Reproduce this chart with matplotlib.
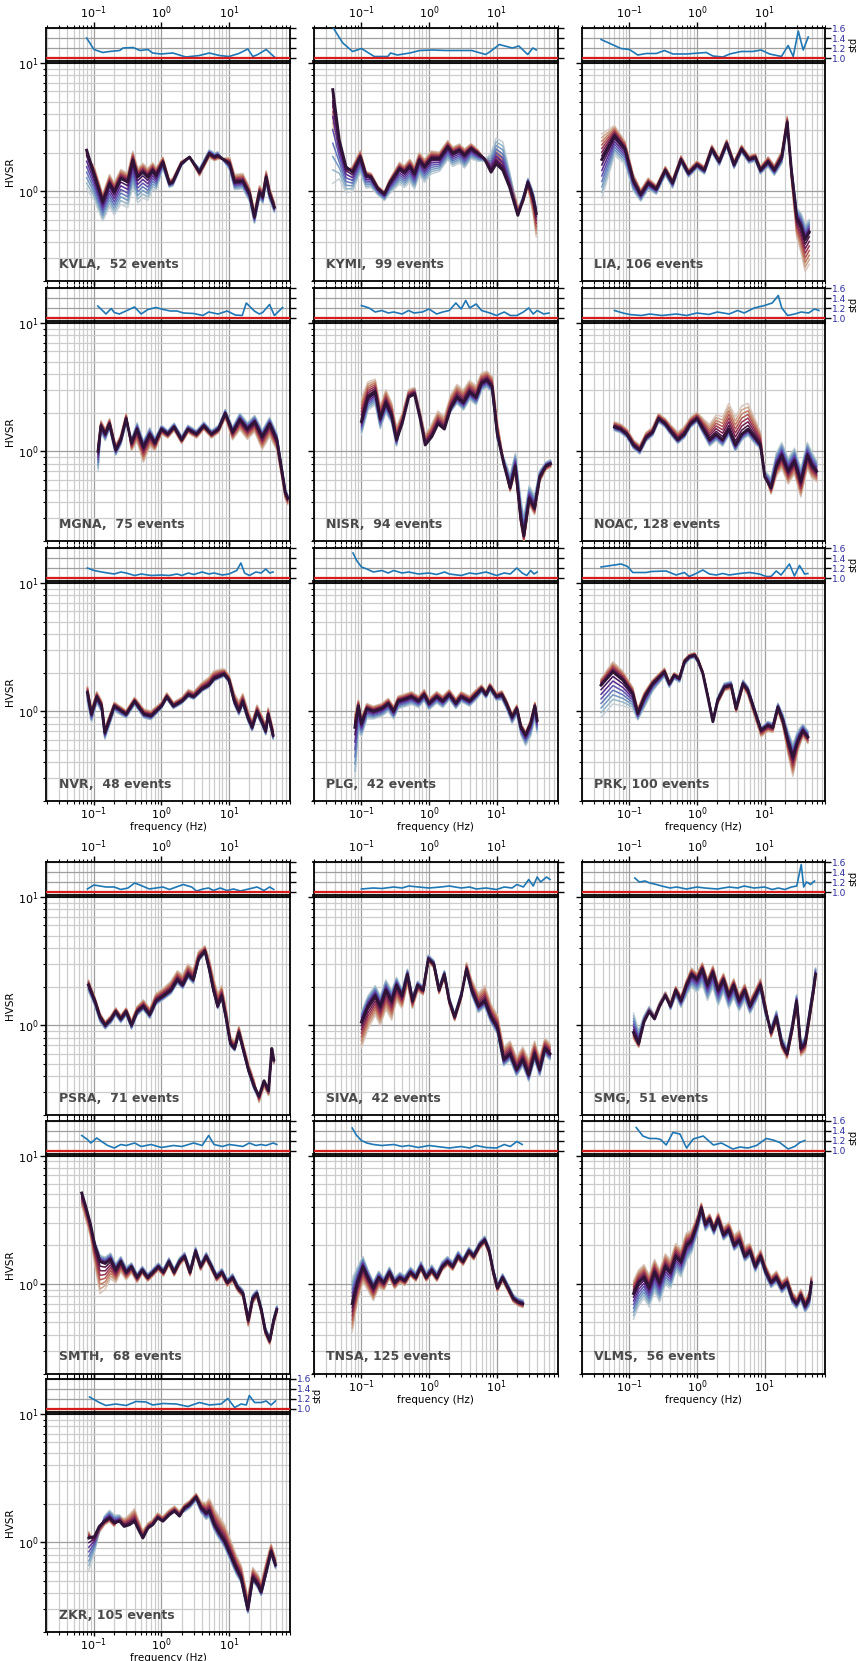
import numpy as np
import matplotlib.pyplot as plt
from matplotlib.ticker import NullFormatter, NullLocator

# station names and number of events
stations = ['KVLA', 'KYMI', 'LIA', 'MGNA', 'NISR', 'NOAC', 'NVR', 'PLG', 'PRK',
            'PSRA', 'SIVA', 'SMG', 'SMTH', 'TNSA', 'VLMS', 'ZKR']
n_events = [52, 99, 106, 75, 94, 128, 48, 42, 100, 71, 42, 51, 68, 125, 56, 105]

# ---- HVSR (central curve), spread of the family at the blue end (lo) and red end (hi), log10 offsets
kvla_f = [0.078, 0.10, 0.135, 0.17, 0.20, 0.25, 0.316, 0.376, 0.445, 0.53, 0.627, 0.74, 0.83, 1.05, 1.31, 1.47,
          1.96, 2.6, 3.65, 5.1, 6.1, 6.8, 10.2, 12.1, 16, 20.1, 23.8, 28.3, 31.6, 35.5, 39.8, 47]
kvla_h = [2.09, 1.37, 0.83, 1.15, 0.99, 1.26, 1.18, 1.75, 1.29, 1.41, 1.29, 1.46, 1.33, 1.69, 1.15, 1.18,
          1.64, 1.85, 1.41, 1.97, 1.85, 1.9, 1.64, 1.18, 1.2, 0.96, 0.63, 0.99, 0.9, 1.29, 0.96, 0.75]
kvla_lo = [-0.3, -0.2, -0.15, -0.18, -0.18, -0.2, -0.2, -0.2, -0.2, -0.2, -0.18, -0.15, -0.12, -0.05, -0.03, -0.03,
           -0.02, 0.0, 0.03, 0.03, 0.03, 0.03, -0.05, -0.06, -0.06, -0.06, -0.05, -0.05, -0.05, -0.05, -0.05, -0.04]
kvla_hi = [-0.05, 0.06, 0.06, 0.07, 0.07, 0.07, 0.07, 0.07, 0.07, 0.07, 0.07, 0.06, 0.06, 0.04, 0.03, 0.03,
           0.02, 0.0, -0.03, -0.03, -0.03, -0.03, 0.05, 0.06, 0.06, 0.05, 0.05, 0.05, 0.05, 0.05, 0.05, 0.04]

kymi_f = [0.0376, 0.047, 0.059, 0.074, 0.096, 0.117, 0.139, 0.175, 0.219, 0.26, 0.366, 0.434, 0.52, 0.61, 0.72, 0.86, 1.08,
          1.43, 1.9, 2.25, 2.83, 3.36, 4.2, 5.3, 6.6, 8.3, 9.9, 12.4, 15.6, 20.7, 24.6, 29.2, 34.6, 38.8]
kymi_h = [6.2, 2.5, 1.55, 1.41, 1.85, 1.33, 1.29, 1.05, 0.95, 1.15, 1.5, 1.41, 1.56, 1.37, 1.75, 1.55, 1.8,
          1.8, 2.22, 1.97, 2.09, 1.91, 2.15, 1.97, 1.8, 1.41, 1.64, 1.46, 1.08, 0.65, 0.85, 1.18, 0.9, 0.67]
kymi_lo = [-0.73, -0.3, -0.2, -0.15, -0.12, -0.1, -0.08, -0.05, -0.05, -0.08, -0.12, -0.12, -0.12, -0.12, -0.12, -0.12, -0.12,
           -0.1, -0.1, -0.1, -0.1, -0.1, -0.08, -0.06, -0.02, 0.15, 0.2, 0.22, 0.12, 0.05, 0.03, 0.03, 0.05, 0.05]
kymi_hi = [-0.3, -0.1, -0.05, 0.05, 0.05, 0.03, 0.03, 0.02, 0.02, 0.03, 0.05, 0.05, 0.06, 0.06, 0.06, 0.06, 0.06,
           0.05, 0.05, 0.05, 0.05, 0.05, 0.04, 0.03, 0.0, 0.1, 0.12, 0.12, 0.08, 0.08, -0.02, -0.05, -0.12, -0.18]

lia_f = [0.039, 0.06, 0.086, 0.114, 0.147, 0.19, 0.25, 0.34, 0.435, 0.58, 0.75, 1.0, 1.29, 1.66, 2.14,
         2.75, 3.54, 4.57, 5.9, 7.3, 8.7, 11.3, 14, 18, 21.7, 25, 30, 34.5, 40, 46]
lia_h = [1.77, 2.7, 2.14, 1.21, 0.94, 1.16, 1.04, 1.46, 1.16, 1.77, 1.38, 1.61, 1.46, 2.14, 1.7,
         2.36, 1.61, 2.14, 1.77, 1.84, 1.46, 1.7, 1.46, 1.84, 3.45, 1.46, 0.62, 0.54, 0.42, 0.48]
lia_lo = [-0.3, -0.15, -0.12, -0.08, -0.05, -0.05, -0.04, -0.04, -0.04, -0.03, -0.03, -0.03, -0.03, -0.03, -0.03,
          -0.03, -0.03, -0.03, -0.03, -0.03, -0.03, -0.04, -0.04, -0.05, -0.05, 0.03, 0.08, 0.1, 0.12, 0.1]
lia_hi = [0.2, 0.08, 0.06, 0.05, 0.04, 0.04, 0.03, 0.03, 0.03, 0.03, 0.03, 0.03, 0.03, 0.03, 0.03,
          0.03, 0.03, 0.03, 0.03, 0.03, 0.03, 0.04, 0.04, 0.05, 0.05, -0.08, -0.15, -0.2, -0.25, -0.25]

mgna_f = [0.115, 0.127, 0.147, 0.17, 0.21, 0.25, 0.3, 0.36, 0.435, 0.54, 0.67, 0.8, 1.0, 1.24, 1.54, 1.99,
          2.47, 3.3, 4.24, 5.5, 7.0, 8.8, 11.3, 14.5, 18.7, 24, 31, 40, 51, 59, 68, 74]
mgna_h = [1.0, 1.58, 1.36, 1.64, 1.02, 1.23, 1.8, 1.16, 1.49, 1.08, 1.36, 1.16, 1.49, 1.36, 1.55, 1.23,
          1.49, 1.36, 1.58, 1.36, 1.49, 1.98, 1.41, 1.77, 1.49, 1.7, 1.3, 1.64, 1.23, 0.77, 0.48, 0.43]
mgna_lo = [-0.15, -0.05, -0.05, -0.04, -0.04, -0.04, -0.04, 0.03, 0.05, 0.05, 0.05, 0.04, 0.03, 0.03, 0.03, 0.03,
           0.03, 0.03, 0.03, 0.03, 0.03, 0.03, 0.04, 0.05, 0.05, 0.05, 0.05, 0.05, 0.05, 0.04, 0.03, 0.03]
mgna_hi = [0.05, 0.04, 0.04, 0.04, 0.04, 0.04, 0.04, -0.06, -0.1, -0.12, -0.1, -0.06, -0.04, -0.03, -0.03, -0.03,
           -0.03, -0.03, -0.03, -0.03, -0.03, -0.04, -0.06, -0.08, -0.08, -0.08, -0.1, -0.1, -0.08, -0.06, -0.05, -0.05]

nisr_f = [0.1, 0.125, 0.16, 0.19, 0.23, 0.28, 0.33, 0.4, 0.5, 0.61, 0.74, 0.88, 1.1, 1.36, 1.69, 2.1, 2.6,
          3.24, 4.0, 5.0, 6.0, 7.2, 8.6, 10.3, 12.8, 15.9, 19, 22.9, 25.4, 30.5, 36.6, 43.6, 54, 63]
nisr_h = [1.71, 2.64, 2.9, 1.8, 2.4, 1.9, 1.23, 1.64, 2.64, 2.8, 1.8, 1.12, 1.3, 1.64, 1.49, 2.18, 2.64,
          2.4, 2.9, 2.64, 3.4, 3.6, 3.2, 1.36, 0.8, 0.52, 0.77, 0.3, 0.22, 0.43, 0.36, 0.63, 0.77, 0.8]
nisr_lo = [-0.1, -0.1, -0.1, -0.08, -0.08, -0.06, -0.05, 0.04, 0.05, 0.05, 0.05, 0.06, 0.06, 0.05, 0.03, -0.03, -0.05,
           -0.06, -0.06, -0.06, -0.06, -0.06, -0.05, -0.05, 0.05, 0.1, 0.1, 0.15, 0.15, 0.1, 0.1, 0.05, 0.03, 0.03]
nisr_hi = [0.18, 0.12, 0.1, 0.1, 0.1, 0.1, 0.1, 0.08, 0.06, 0.05, 0.06, 0.08, 0.1, 0.1, 0.1, 0.1, 0.1,
           0.1, 0.09, 0.09, 0.08, 0.07, 0.08, 0.1, 0.02, -0.03, -0.05, -0.05, -0.05, -0.05, -0.05, -0.04, -0.03, -0.03]

noac_f = [0.06, 0.074, 0.092, 0.115, 0.142, 0.176, 0.22, 0.27, 0.34, 0.42, 0.52, 0.65, 0.8, 1.0, 1.24, 1.54, 1.92,
          2.4, 2.96, 3.7, 4.6, 5.7, 7.05, 8.7, 10.1, 12.5, 15, 18, 22.4, 27.8, 34.5, 43, 51, 59]
noac_h = [1.55, 1.49, 1.36, 1.12, 1.02, 1.28, 1.41, 1.8, 1.64, 1.41, 1.23, 1.36, 1.64, 1.8, 1.49, 1.23, 1.36,
          1.23, 1.49, 1.12, 1.36, 1.49, 1.3, 1.12, 0.63, 0.52, 0.77, 0.93, 0.7, 0.84, 0.58, 0.93, 0.77, 0.7]
noac_lo = [-0.03, -0.03, -0.03, -0.03, -0.03, -0.03, -0.03, -0.03, -0.03, -0.03, -0.03, -0.03, -0.03, -0.03, -0.04, -0.05, -0.05,
           -0.05, -0.05, -0.05, -0.05, -0.05, -0.05, -0.03, 0.05, 0.08, 0.1, 0.1, 0.1, 0.1, 0.1, 0.1, 0.1, 0.08]
noac_hi = [0.04, 0.04, 0.04, 0.04, 0.04, 0.04, 0.04, 0.04, 0.04, 0.05, 0.06, 0.06, 0.05, 0.05, 0.08, 0.12, 0.15,
           0.18, 0.2, 0.22, 0.22, 0.2, 0.15, 0.1, 0.02, -0.05, -0.08, -0.1, -0.1, -0.1, -0.12, -0.1, -0.1, -0.08]

nvr_f = [0.08, 0.092, 0.11, 0.13, 0.145, 0.2, 0.3, 0.4, 0.55, 0.7, 1.0, 1.2, 1.5, 2.0, 2.5, 3.0,
         4.0, 5.0, 6.0, 7.5, 8.5, 10, 12, 14, 16, 19, 22, 26, 30, 35, 38, 45]
nvr_h = [1.4, 0.95, 1.3, 1.1, 0.68, 1.1, 0.95, 1.2, 0.95, 0.92, 1.1, 1.3, 1.1, 1.2, 1.35, 1.3,
         1.5, 1.6, 1.8, 1.9, 1.95, 1.75, 1.2, 1.0, 1.2, 0.9, 0.75, 1.0, 0.85, 0.7, 0.95, 0.65]
nvr_lo = [-0.08, -0.06, -0.05, -0.05, -0.05, -0.04, -0.03, -0.03, -0.03, -0.03, -0.02, -0.02, -0.02, -0.02, -0.02, -0.02,
          -0.02, -0.02, -0.02, -0.02, -0.02, -0.02, -0.03, -0.03, -0.03, -0.03, -0.03, -0.03, -0.03, -0.03, -0.03, -0.03]
nvr_hi = [0.05, 0.04, 0.04, 0.04, 0.04, 0.03, 0.03, 0.03, 0.04, 0.04, 0.03, 0.03, 0.03, 0.03, 0.04, 0.04,
          0.05, 0.06, 0.06, 0.05, 0.04, 0.04, 0.06, 0.08, 0.06, 0.06, 0.05, 0.05, 0.05, 0.05, 0.05, 0.05]

plg_f = [0.08, 0.09, 0.1, 0.12, 0.15, 0.2, 0.25, 0.3, 0.35, 0.45, 0.55, 0.7, 0.85, 1.0, 1.3, 1.6, 2.0,
         2.5, 3.0, 4.0, 5.0, 6.0, 7.0, 8.0, 10, 12, 14, 17, 20, 23, 27, 32, 37, 40]
plg_h = [0.75, 1.1, 0.8, 1.05, 1.0, 1.05, 1.15, 1.0, 1.2, 1.25, 1.3, 1.2, 1.35, 1.15, 1.3, 1.2, 1.35,
         1.15, 1.3, 1.2, 1.35, 1.5, 1.35, 1.55, 1.3, 1.35, 1.15, 0.9, 1.05, 0.75, 0.65, 0.8, 1.1, 0.85]
plg_lo = [-0.4, -0.2, -0.1, -0.08, -0.06, -0.06, -0.06, -0.06, -0.06, -0.06, -0.06, -0.05, -0.05, -0.05, -0.05, -0.05, -0.04,
          -0.04, -0.04, -0.04, -0.04, -0.03, -0.03, -0.03, -0.03, -0.04, -0.04, -0.05, -0.05, -0.06, -0.08, -0.1, -0.1, -0.1]
plg_hi = [0.1, 0.05, 0.05, 0.04, 0.04, 0.04, 0.04, 0.04, 0.04, 0.04, 0.04, 0.04, 0.04, 0.04, 0.04, 0.04, 0.04,
          0.04, 0.04, 0.04, 0.04, 0.03, 0.03, 0.03, 0.03, 0.03, 0.03, 0.03, 0.03, 0.03, 0.03, 0.03, 0.03, 0.03]

prk_f = [0.038, 0.057, 0.08, 0.112, 0.133, 0.167, 0.22, 0.25, 0.33, 0.39, 0.46, 0.55, 0.65, 0.77, 0.92, 1.03, 1.22, 1.45,
         1.72, 2.03, 2.55, 3.2, 3.8, 4.8, 5.67, 7.1, 8.9, 11.2, 13.3, 15.8, 18.7, 22.2, 26.3, 31.2, 37, 43.8]
prk_h = [1.6, 2.03, 1.75, 1.37, 0.96, 1.29, 1.64, 1.75, 2.03, 1.64, 1.91, 1.8, 2.43, 2.66, 2.74, 2.5, 1.97, 1.29,
         0.83, 1.22, 1.55, 1.6, 1.05, 1.64, 1.46, 1.02, 0.71, 0.78, 0.75, 1.08, 0.85, 0.59, 0.44, 0.59, 0.71, 0.63]
prk_lo = [-0.25, -0.25, -0.2, -0.12, -0.05, -0.08, -0.06, -0.05, -0.04, -0.03, -0.03, -0.03, -0.03, -0.02, -0.02, -0.02, 0.02, 0.02,
          0.02, 0.03, 0.03, 0.03, 0.04, 0.03, 0.03, 0.02, 0.02, 0.03, 0.03, 0.03, 0.05, 0.08, 0.1, 0.08, 0.05, 0.05]
prk_hi = [0.05, 0.08, 0.07, 0.05, 0.04, 0.04, 0.03, 0.03, 0.03, 0.02, 0.02, 0.02, 0.02, 0.02, 0.02, 0.02, 0.02, 0.02,
          0.02, -0.03, -0.03, -0.03, -0.03, -0.03, -0.04, -0.05, -0.05, -0.05, -0.04, -0.03, -0.05, -0.1, -0.15, -0.08, -0.05, -0.05]

psra_f = [0.083, 0.103, 0.123, 0.147, 0.18, 0.21, 0.25, 0.3, 0.36, 0.435, 0.54, 0.67, 0.83, 1.07, 1.38, 1.72, 2.06, 2.47, 2.96,
          3.55, 4.4, 5.1, 5.9, 6.8, 7.8, 9.0, 10.5, 12.1, 14, 16.1, 19.4, 23.3, 27.8, 33, 38.5, 43, 46]
psra_h = [2.06, 1.55, 1.16, 1.0, 1.12, 1.28, 1.12, 1.28, 1.0, 1.28, 1.41, 1.21, 1.55, 1.7, 1.88, 2.27, 2.06, 2.5, 2.27,
          3.3, 3.8, 2.75, 1.88, 1.41, 1.7, 1.16, 0.72, 0.66, 0.88, 0.66, 0.45, 0.34, 0.28, 0.37, 0.31, 0.66, 0.54]
psra_lo = [-0.05, -0.04, -0.04, -0.03, -0.03, -0.03, -0.03, -0.03, -0.03, -0.03, -0.03, -0.03, -0.03, -0.03, -0.03, -0.03, -0.03, -0.03, -0.03,
           -0.02, -0.02, -0.02, -0.02, -0.02, -0.02, -0.02, -0.02, -0.02, -0.02, -0.02, -0.02, -0.03, -0.03, -0.03, -0.03, -0.03, -0.03]
psra_hi = [0.04, 0.03, 0.03, 0.03, 0.03, 0.03, 0.03, 0.03, 0.04, 0.04, 0.05, 0.05, 0.06, 0.06, 0.07, 0.07, 0.08, 0.08, 0.08,
           0.06, 0.04, 0.08, 0.1, 0.1, 0.08, 0.08, 0.06, 0.05, 0.05, 0.05, 0.05, 0.05, -0.05, -0.05, -0.04, -0.03, -0.03]

siva_f = [0.1, 0.125, 0.16, 0.19, 0.23, 0.28, 0.33, 0.4, 0.48, 0.57, 0.68, 0.82, 0.98, 1.18, 1.41, 1.69, 2.0,
          2.4, 3.0, 3.6, 4.3, 5.4, 6.7, 8.3, 10.3, 12.8, 15.9, 19.8, 24.5, 30, 36.6, 43.6, 52, 62]
siva_h = [1.06, 1.41, 1.7, 1.41, 1.88, 1.55, 2.06, 1.7, 2.5, 1.55, 2.06, 1.88, 3.3, 3.0, 1.88, 2.5, 1.55,
          1.16, 1.7, 2.75, 1.88, 1.41, 1.55, 1.16, 0.96, 0.54, 0.6, 0.45, 0.54, 0.41, 0.6, 0.45, 0.66, 0.6]
siva_lo = [0.08, 0.08, 0.08, 0.08, 0.08, 0.08, 0.06, 0.05, 0.04, 0.04, 0.03, 0.03, 0.03, 0.03, 0.03, 0.03, 0.03,
           0.03, 0.03, -0.03, -0.04, -0.05, -0.05, -0.05, -0.05, -0.05, -0.05, -0.05, -0.05, -0.05, -0.05, -0.05, -0.05, -0.05]
siva_hi = [-0.2, -0.18, -0.15, -0.15, -0.15, -0.15, -0.12, -0.1, -0.08, -0.06, -0.05, -0.04, -0.03, -0.03, -0.03, -0.03, -0.03,
           -0.03, -0.03, 0.05, 0.08, 0.1, 0.12, 0.1, 0.1, 0.1, 0.1, 0.1, 0.1, 0.12, 0.1, 0.1, 0.08, 0.08]

smg_f = [0.115, 0.137, 0.164, 0.196, 0.235, 0.28, 0.34, 0.405, 0.485, 0.58, 0.7, 0.83, 1.0, 1.2, 1.43, 1.72, 2.06, 2.47, 2.96,
         3.5, 4.2, 5.1, 6.1, 7.3, 8.7, 10.5, 12.5, 15, 18, 21.6, 25.8, 29.9, 34.5, 40, 46, 53, 57]
smg_h = [0.88, 0.72, 1.06, 1.28, 1.12, 1.41, 1.7, 1.41, 1.88, 1.55, 2.06, 2.5, 2.27, 2.75, 2.06, 2.6, 1.88, 2.27, 1.7,
         2.06, 1.55, 1.88, 1.41, 1.7, 2.06, 1.28, 0.88, 1.16, 0.72, 0.6, 0.96, 1.55, 0.66, 0.72, 1.16, 1.88, 2.5]
smg_lo = [0.15, 0.1, 0.05, 0.04, 0.03, 0.03, 0.03, -0.03, -0.05, -0.05, -0.08, -0.1, -0.1, -0.12, -0.12, -0.12, -0.12, -0.1, -0.1,
          -0.1, -0.08, -0.08, -0.06, -0.06, -0.05, -0.05, 0.04, 0.05, 0.05, 0.05, 0.05, 0.05, 0.05, 0.05, 0.05, 0.05, 0.05]
smg_hi = [-0.05, -0.03, 0.03, 0.03, 0.03, 0.03, 0.03, 0.03, 0.03, 0.04, 0.04, 0.05, 0.05, 0.05, 0.05, 0.05, 0.05, 0.05, 0.05,
          0.05, 0.05, 0.05, 0.05, 0.05, 0.05, 0.05, -0.04, -0.04, -0.04, -0.04, -0.04, -0.06, -0.06, -0.06, -0.05, -0.05, -0.05]

smth_f = [0.066, 0.077, 0.089, 0.103, 0.123, 0.147, 0.176, 0.21, 0.25, 0.3, 0.36, 0.435, 0.52, 0.625, 0.75, 0.9, 1.07, 1.29, 1.54, 1.85,
          2.2, 2.65, 3.2, 3.8, 4.6, 5.5, 6.55, 7.85, 9.4, 11.3, 13.5, 16.1, 19.3, 22.4, 25.9, 30, 34.5, 40, 46, 51]
smth_h = [5.1, 3.87, 2.9, 1.99, 1.49, 1.44, 1.55, 1.28, 1.49, 1.23, 1.36, 1.12, 1.28, 1.12, 1.23, 1.36, 1.23, 1.49, 1.23, 1.49,
          1.64, 1.23, 1.8, 1.36, 1.64, 1.36, 1.12, 1.23, 1.02, 1.12, 0.93, 0.84, 0.52, 0.77, 0.84, 0.63, 0.43, 0.36, 0.52, 0.63]
smth_lo = [-0.1, -0.05, -0.05, 0.03, 0.05, 0.05, 0.05, 0.05, 0.04, 0.04, 0.03, 0.03, 0.03, 0.03, 0.03, 0.03, 0.03, 0.03, 0.03, 0.03,
           0.03, 0.03, 0.03, 0.03, 0.03, 0.03, 0.03, 0.03, 0.03, 0.03, 0.03, 0.03, 0.03, 0.03, 0.03, 0.03, 0.03, 0.03, 0.03, 0.03]
smth_hi = [-0.1, -0.1, -0.1, -0.15, -0.25, -0.2, -0.15, -0.1, -0.08, -0.06, -0.05, -0.04, -0.03, -0.03, -0.03, -0.03, -0.03, -0.03, -0.03, -0.03,
           -0.03, -0.03, -0.03, -0.03, -0.03, -0.03, -0.03, -0.03, -0.03, -0.03, -0.03, -0.03, -0.05, -0.04, -0.03, -0.03, -0.03, -0.03, -0.03, -0.03]

tnsa_f = [0.073, 0.087, 0.105, 0.125, 0.15, 0.18, 0.215, 0.26, 0.31, 0.37, 0.44, 0.53, 0.64, 0.76, 0.91, 1.1, 1.31,
          1.57, 1.88, 2.25, 2.7, 3.2, 3.9, 4.6, 5.6, 6.7, 7.8, 9.0, 10.3, 12.3, 14.8, 17.7, 21, 24.5]
tnsa_h = [0.7, 1.02, 1.36, 1.12, 0.93, 1.12, 1.02, 1.23, 1.02, 1.12, 1.06, 1.23, 1.12, 1.36, 1.12, 1.28, 1.12,
          1.36, 1.49, 1.36, 1.64, 1.49, 1.8, 1.64, 1.99, 2.2, 1.8, 1.23, 0.93, 1.12, 0.93, 0.77, 0.72, 0.7]
tnsa_lo = [0.2, 0.12, 0.08, 0.06, 0.05, 0.05, 0.04, 0.04, 0.04, 0.04, 0.04, 0.04, 0.04, 0.04, 0.04, 0.04, 0.04,
           0.04, 0.04, 0.04, 0.04, 0.03, 0.03, 0.03, 0.03, 0.03, 0.03, 0.03, 0.03, 0.03, 0.03, 0.03, 0.03, 0.03]
tnsa_hi = [-0.22, -0.15, -0.12, -0.1, -0.1, -0.08, -0.06, -0.05, -0.05, -0.04, -0.04, -0.03, -0.03, -0.03, -0.03, -0.03, -0.03,
           -0.03, -0.03, -0.03, -0.03, -0.03, -0.03, -0.03, -0.03, -0.03, -0.03, -0.03, -0.03, -0.03, -0.03, -0.03, -0.03, -0.03]

vlms_f = [0.115, 0.137, 0.164, 0.196, 0.235, 0.28, 0.34, 0.405, 0.485, 0.58, 0.7, 0.83, 1.0, 1.16, 1.33, 1.54, 1.78, 2.06, 2.47,
          2.96, 3.55, 4.24, 5.1, 6.1, 7.3, 8.75, 10.5, 12.5, 15, 18, 21.6, 25.8, 29.9, 34.5, 40, 46, 49.5]
vlms_h = [0.84, 1.02, 1.12, 0.93, 1.23, 1.02, 1.36, 1.23, 1.64, 1.49, 1.99, 2.18, 2.9, 3.9, 2.9, 3.2, 2.64, 3.2, 2.4,
          2.64, 1.99, 2.18, 1.64, 1.8, 1.36, 1.64, 1.23, 1.02, 1.12, 0.93, 1.02, 0.77, 0.7, 0.81, 0.67, 0.77, 1.02]
vlms_lo = [-0.2, -0.18, -0.16, -0.15, -0.15, -0.15, -0.14, -0.13, -0.12, -0.12, -0.12, -0.1, -0.08, -0.06, -0.05, -0.05, -0.04, -0.04, -0.04,
           -0.04, -0.04, -0.04, -0.04, -0.04, -0.04, -0.04, -0.04, -0.04, -0.04, -0.04, -0.04, -0.04, -0.04, -0.04, -0.05, -0.06, -0.06]
vlms_hi = [0.1, 0.1, 0.1, 0.1, 0.1, 0.1, 0.1, 0.1, 0.1, 0.1, 0.1, 0.08, 0.06, 0.04, 0.04, 0.04, 0.04, 0.05, 0.06,
           0.06, 0.08, 0.08, 0.08, 0.06, 0.06, 0.05, 0.05, 0.05, 0.05, 0.05, 0.05, 0.05, 0.05, 0.05, 0.05, 0.05, 0.05]

zkr_f = [0.084, 0.102, 0.12, 0.143, 0.17, 0.2, 0.24, 0.28, 0.335, 0.4, 0.446, 0.53, 0.63, 0.74, 0.88, 1.05, 1.31, 1.56, 1.85,
         2.19, 2.6, 3.26, 3.87, 4.58, 5.1, 6.1, 7.2, 8.6, 10.2, 12.8, 15.1, 19, 22.5, 26.7, 30, 35.5, 42, 48.8]
zkr_h = [1.08, 1.11, 1.33, 1.46, 1.55, 1.42, 1.46, 1.33, 1.37, 1.46, 1.29, 1.08, 1.29, 1.37, 1.55, 1.46, 1.64, 1.75, 1.6,
         1.85, 1.97, 2.25, 1.85, 1.69, 1.75, 1.37, 1.18, 1.02, 0.83, 0.63, 0.53, 0.3, 0.53, 0.47, 0.41, 0.59, 0.85, 0.67]
zkr_lo = [-0.25, -0.12, -0.05, 0.04, 0.06, 0.06, 0.05, 0.03, 0.03, 0.03, 0.03, 0.03, 0.03, 0.03, 0.03, 0.03, 0.03, 0.03, 0.03,
          -0.03, -0.03, -0.03, -0.04, -0.05, -0.05, -0.05, -0.05, -0.05, -0.05, -0.05, -0.04, -0.03, -0.03, -0.03, -0.03, -0.03, -0.03, -0.03]
zkr_hi = [0.05, -0.08, -0.05, -0.03, -0.03, -0.03, 0.04, 0.06, 0.08, 0.1, 0.08, 0.06, 0.04, 0.04, 0.04, 0.04, 0.04, 0.04, 0.04,
          0.03, 0.03, 0.03, 0.05, 0.08, 0.1, 0.12, 0.13, 0.13, 0.12, 0.1, 0.1, 0.1, 0.08, 0.08, 0.08, 0.08, 0.06, 0.05]

# ---- std of the HVSR (upper small panels)
kvla_sf = [0.078, 0.1, 0.135, 0.17, 0.24, 0.27, 0.38, 0.48, 0.63, 0.74, 0.98, 1.47, 2.3, 3.65, 5.1, 7.2, 10, 14, 19, 22.5, 26.7, 35.5, 47]
kvla_sv = [1.4, 1.17, 1.11, 1.13, 1.15, 1.2, 1.21, 1.15, 1.17, 1.1, 1.08, 1.1, 1.02, 1.05, 1.1, 1.05, 1.03, 1.09, 1.18, 1.03, 1.07, 1.17, 1.02]
kymi_sf = [0.0376, 0.045, 0.053, 0.074, 0.1, 0.155, 0.245, 0.27, 0.34, 0.52, 0.73, 1.13, 1.76, 4.3, 6.9, 8.1, 11, 17.1, 21.4, 29, 34.6, 38.8]
kymi_sv = [1.62, 1.45, 1.3, 1.13, 1.19, 1.03, 1.03, 1.1, 1.06, 1.1, 1.15, 1.16, 1.15, 1.15, 1.07, 1.13, 1.27, 1.2, 1.24, 1.07, 1.2, 1.16]
lia_sf = [0.038, 0.075, 0.1, 0.133, 0.177, 0.25, 0.33, 0.44, 0.69, 0.87, 1.37, 1.72, 2.42, 3.05, 4.5, 6.7, 8.9, 11.9, 17.8, 22.4, 26.6, 31.6, 37.4, 44.4]
lia_sv = [1.37, 1.19, 1.17, 1.06, 1.09, 1.09, 1.15, 1.08, 1.08, 1.09, 1.11, 1.04, 1.02, 1.08, 1.13, 1.13, 1.16, 1.08, 1.03, 1.25, 1.03, 1.54, 1.16, 1.42]
mgna_sf = [0.114, 0.151, 0.18, 0.2, 0.237, 0.4, 0.5, 0.63, 0.83, 1.06, 1.35, 1.7, 2.1, 3.0, 4.1, 5.0, 6.9, 9.4, 12.4, 15.7, 18, 23.7, 28, 31.5, 39.8, 47, 55, 62]
mgna_sv = [1.24, 1.08, 1.19, 1.11, 1.08, 1.22, 1.08, 1.17, 1.21, 1.17, 1.14, 1.14, 1.1, 1.09, 1.05, 1.12, 1.08, 1.14, 1.06, 1.05, 1.3, 1.14, 1.08, 1.11, 1.27, 1.05, 1.14, 1.21]
nisr_sf = [0.1, 0.13, 0.16, 0.2, 0.25, 0.3, 0.4, 0.5, 0.6, 0.8, 1.0, 1.3, 1.6, 2.0, 2.5, 3.0, 3.5, 4.0, 5.0, 6.0, 8.0, 10, 13, 16, 20, 25, 30, 35, 40, 50, 60]
nisr_sv = [1.25, 1.2, 1.12, 1.15, 1.1, 1.12, 1.08, 1.15, 1.1, 1.12, 1.18, 1.08, 1.12, 1.15, 1.3, 1.18, 1.35, 1.2, 1.28, 1.15, 1.1, 1.05, 1.12, 1.05, 1.05, 1.12, 1.2, 1.08, 1.15, 1.08, 1.1]
noac_sf = [0.06, 0.08, 0.1, 0.15, 0.2, 0.3, 0.5, 0.7, 1.0, 1.5, 2.0, 3.0, 4.0, 5.0, 7.0, 10, 13, 16, 18, 22, 28, 35, 45, 55, 64]
noac_sv = [1.15, 1.1, 1.07, 1.05, 1.08, 1.05, 1.08, 1.05, 1.1, 1.07, 1.12, 1.08, 1.15, 1.1, 1.2, 1.25, 1.3, 1.45, 1.2, 1.05, 1.08, 1.12, 1.1, 1.18, 1.15]
nvr_sf = [0.08, 0.1, 0.13, 0.16, 0.2, 0.25, 0.3, 0.4, 0.5, 0.7, 1, 1.3, 1.7, 2, 2.5, 3, 4, 5, 6, 8, 10, 13, 15, 17, 20, 25, 30, 35, 40, 45]
nvr_sv = [1.2, 1.15, 1.12, 1.1, 1.08, 1.12, 1.1, 1.05, 1.08, 1.05, 1.06, 1.05, 1.08, 1.05, 1.1, 1.07, 1.12, 1.08, 1.1, 1.06, 1.08, 1.15, 1.3, 1.1, 1.05, 1.12, 1.1, 1.18, 1.1, 1.12]
plg_sf = [0.075, 0.085, 0.1, 0.12, 0.15, 0.2, 0.25, 0.3, 0.4, 0.5, 0.7, 1, 1.3, 1.7, 2, 3, 4, 5, 7, 10, 13, 16, 20, 24, 28, 32, 36, 40]
plg_sv = [1.5, 1.35, 1.22, 1.18, 1.12, 1.15, 1.1, 1.15, 1.1, 1.12, 1.08, 1.1, 1.07, 1.12, 1.08, 1.05, 1.1, 1.08, 1.12, 1.05, 1.1, 1.08, 1.2, 1.1, 1.05, 1.15, 1.08, 1.12]
prk_sf = [0.038, 0.075, 0.094, 0.112, 0.177, 0.21, 0.35, 0.49, 0.65, 0.77, 0.97, 1.22, 1.53, 1.93, 2.4, 3.0, 4.3, 6.0, 8.4, 10.6, 12.5, 14.9, 17.6, 23.4, 27.7, 33, 37, 39, 43.8]
prk_sv = [1.22, 1.28, 1.23, 1.11, 1.11, 1.13, 1.14, 1.06, 1.11, 1.03, 1.09, 1.16, 1.08, 1.06, 1.09, 1.06, 1.09, 1.11, 1.08, 1.03, 1.03, 1.14, 1.06, 1.28, 1.04, 1.25, 1.14, 1.08, 1.09]
psra_sf = [0.08, 0.1, 0.15, 0.2, 0.25, 0.32, 0.4, 0.5, 0.66, 0.83, 1.05, 1.31, 2.1, 2.8, 3.3, 4.1, 5.0, 5.9, 7.4, 9.3, 11.7, 14.7, 19.5, 26, 33, 40, 46]
psra_sv = [1.06, 1.14, 1.1, 1.1, 1.05, 1.08, 1.18, 1.13, 1.06, 1.08, 1.1, 1.05, 1.15, 1.1, 1.02, 1.06, 1.08, 1.03, 1.08, 1.03, 1.06, 1.02, 1.06, 1.1, 1.03, 1.1, 1.05]
siva_sf = [0.1, 0.15, 0.2, 0.3, 0.4, 0.5, 0.7, 1, 1.5, 2, 3, 4, 5, 7, 10, 13, 17, 20, 25, 30, 35, 40, 45, 55, 62]
siva_sv = [1.06, 1.08, 1.07, 1.1, 1.08, 1.12, 1.1, 1.08, 1.1, 1.12, 1.08, 1.1, 1.06, 1.08, 1.05, 1.1, 1.08, 1.15, 1.1, 1.25, 1.12, 1.3, 1.2, 1.3, 1.25]
smg_sf = [0.12, 0.14, 0.17, 0.2, 0.25, 0.3, 0.4, 0.5, 0.7, 1, 1.3, 2, 3, 4, 5, 7, 10, 13, 16, 20, 25, 30, 35, 38, 42, 48, 55]
smg_sv = [1.28, 1.2, 1.22, 1.18, 1.15, 1.12, 1.08, 1.1, 1.06, 1.1, 1.08, 1.06, 1.1, 1.08, 1.12, 1.08, 1.1, 1.05, 1.08, 1.05, 1.1, 1.12, 1.55, 1.1, 1.2, 1.15, 1.22]
smth_sf = [0.066, 0.08, 0.09, 0.11, 0.13, 0.16, 0.2, 0.25, 0.3, 0.4, 0.5, 0.7, 1, 1.5, 2, 3, 4, 5, 6, 8, 10, 13, 16, 20, 25, 30, 35, 45, 51]
smth_sv = [1.3, 1.22, 1.15, 1.25, 1.18, 1.1, 1.05, 1.12, 1.1, 1.15, 1.08, 1.12, 1.06, 1.1, 1.08, 1.15, 1.1, 1.3, 1.12, 1.08, 1.12, 1.1, 1.08, 1.15, 1.1, 1.12, 1.1, 1.15, 1.12]
tnsa_sf = [0.073, 0.085, 0.1, 0.12, 0.15, 0.2, 0.3, 0.4, 0.5, 0.7, 1, 1.5, 2, 3, 4, 5, 7, 10, 13, 16, 20, 24]
tnsa_sv = [1.45, 1.3, 1.2, 1.15, 1.12, 1.1, 1.12, 1.08, 1.1, 1.06, 1.1, 1.07, 1.05, 1.08, 1.05, 1.1, 1.06, 1.05, 1.12, 1.08, 1.18, 1.12]
vlms_sf = [0.126, 0.158, 0.198, 0.25, 0.29, 0.35, 0.44, 0.56, 0.7, 0.88, 1.24, 1.75, 2.3, 3.4, 4.3, 5.7, 7.6, 10.6, 13.4, 16.8, 22.4, 28, 33.3, 39.4]
vlms_sv = [1.46, 1.29, 1.24, 1.24, 1.22, 1.11, 1.36, 1.33, 1.05, 1.23, 1.29, 1.11, 1.15, 1.03, 1.07, 1.05, 1.1, 1.24, 1.21, 1.16, 1.03, 1.08, 1.16, 1.2]
zkr_sf = [0.086, 0.12, 0.15, 0.21, 0.3, 0.42, 0.59, 0.74, 1.05, 1.65, 2.45, 3.66, 5.1, 7.6, 9.6, 12.1, 15.1, 18, 20, 23.9, 30, 35.5, 42, 48.8]
zkr_sv = [1.24, 1.13, 1.07, 1.1, 1.07, 1.15, 1.14, 1.08, 1.11, 1.1, 1.05, 1.13, 1.08, 1.1, 1.21, 1.03, 1.1, 1.08, 1.27, 1.13, 1.13, 1.16, 1.08, 1.16]

hvsr = {
    'KVLA': (kvla_f, kvla_h, kvla_lo, kvla_hi), 'KYMI': (kymi_f, kymi_h, kymi_lo, kymi_hi),
    'LIA': (lia_f, lia_h, lia_lo, lia_hi), 'MGNA': (mgna_f, mgna_h, mgna_lo, mgna_hi),
    'NISR': (nisr_f, nisr_h, nisr_lo, nisr_hi), 'NOAC': (noac_f, noac_h, noac_lo, noac_hi),
    'NVR': (nvr_f, nvr_h, nvr_lo, nvr_hi), 'PLG': (plg_f, plg_h, plg_lo, plg_hi),
    'PRK': (prk_f, prk_h, prk_lo, prk_hi), 'PSRA': (psra_f, psra_h, psra_lo, psra_hi),
    'SIVA': (siva_f, siva_h, siva_lo, siva_hi), 'SMG': (smg_f, smg_h, smg_lo, smg_hi),
    'SMTH': (smth_f, smth_h, smth_lo, smth_hi), 'TNSA': (tnsa_f, tnsa_h, tnsa_lo, tnsa_hi),
    'VLMS': (vlms_f, vlms_h, vlms_lo, vlms_hi), 'ZKR': (zkr_f, zkr_h, zkr_lo, zkr_hi),
}
std = {
    'KVLA': (kvla_sf, kvla_sv), 'KYMI': (kymi_sf, kymi_sv), 'LIA': (lia_sf, lia_sv), 'MGNA': (mgna_sf, mgna_sv),
    'NISR': (nisr_sf, nisr_sv), 'NOAC': (noac_sf, noac_sv), 'NVR': (nvr_sf, nvr_sv), 'PLG': (plg_sf, plg_sv),
    'PRK': (prk_sf, prk_sv), 'PSRA': (psra_sf, psra_sv), 'SIVA': (siva_sf, siva_sv), 'SMG': (smg_sf, smg_sv),
    'SMTH': (smth_sf, smth_sv), 'TNSA': (tnsa_sf, tnsa_sv), 'VLMS': (vlms_sf, vlms_sv), 'ZKR': (zkr_sf, zkr_sv),
}

# ---- layout (pixels of the 860x1661 figure)
W, H = 860, 1661
col_left = [46, 313.5, 581.5]
ax_w = 244
block_top = [28, 862]
pitch = [260, 258.5]
std_h, gap, main_h = 33, 2, 218


def rect(x, top, w, h):
    return [x / W, 1 - (top + h) / H, w / W, h / H]


cmap = plt.get_cmap('twilight')
levels = np.linspace(0.06, 0.94, 15)
order = np.argsort(-np.abs(levels - 0.5))  # outer colours first, dark centre last

fig = plt.figure(figsize=(W / 100, H / 100), dpi=100)

for i, name in enumerate(stations):
    block = 0 if i < 9 else 1
    row, col = divmod(i if i < 9 else i - 9, 3)
    top = block_top[block] + row * pitch[block]
    bottom_row = (block == 0 and row == 2) or (block == 1 and (row == 2 or (row == 1 and col > 0)))
    right_lab = col == 2 or (block == 1 and row == 2)

    ax_s = fig.add_axes(rect(col_left[col], top, ax_w, std_h))
    ax = fig.add_axes(rect(col_left[col], top + std_h + gap, ax_w, main_h))

    # main HVSR panel
    f, h, lo, hi = (np.array(a, dtype=float) for a in hvsr[name])
    for k in order:
        t = levels[k]
        u = (t - 0.5) / 0.44
        off = -u * lo if u < 0 else u * hi
        centre = abs(t - 0.5) < 1e-9
        ax.plot(f, h * 10 ** off, color=cmap(t), lw=2.1 if centre else 1.1, zorder=3 + (0.5 - abs(t - 0.5)))
    ax.set_xscale('log')
    ax.set_yscale('log')
    ax.set_xlim(0.0195, 80)
    ax.set_ylim(0.2, 10)
    ax.set_axisbelow(True)
    ax.grid(True, which='major', color='0.62', lw=0.9)
    ax.grid(True, which='minor', color='0.8', lw=0.9)
    ax.xaxis.set_minor_formatter(NullFormatter())
    ax.yaxis.set_minor_formatter(NullFormatter())
    ax.tick_params(which='both', direction='out', top=True, bottom=True, left=True, right=False,
                   labelbottom=bottom_row, labelleft=(col == 0), labelsize=8)
    ax.tick_params(axis='y', which='major', length=4, width=1, pad=1.5)
    ax.tick_params(axis='y', which='minor', length=2.2, width=0.8)
    ax.tick_params(axis='x', which='major', length=3, width=1, pad=0.5)
    ax.tick_params(axis='x', which='minor', length=1.8, width=0.8)
    for sp in ax.spines.values():
        sp.set_linewidth(1.3)
    if col == 0:
        ax.set_ylabel('HVSR', fontsize=7.5, labelpad=2)
    if bottom_row:
        ax.set_xlabel('frequency (Hz)', fontsize=7.5, labelpad=0)
    ax.text(0.053, 0.06, f'{name}, {n_events[i]:3d} events', transform=ax.transAxes,
            fontsize=9, fontweight='bold', color='#4a4a4a', zorder=10)

    # std panel
    sf, sv = std[name]
    ax_s.plot(sf, sv, color='#1f77b4', lw=1.2, zorder=3)
    ax_s.axhline(1.0, color='#d81b1b', lw=1.6, zorder=4)
    ax_s.set_xscale('log')
    ax_s.set_xlim(0.0195, 80)
    ax_s.set_ylim(0.94, 1.6)
    ax_s.set_yticks([1.0, 1.2, 1.4, 1.6])
    ax_s.yaxis.set_minor_locator(NullLocator())
    ax_s.xaxis.set_minor_formatter(NullFormatter())
    ax_s.set_axisbelow(True)
    ax_s.grid(True, which='major', color='0.62', lw=0.9)
    ax_s.grid(True, which='minor', color='0.8', lw=0.9)
    ax_s.tick_params(axis='x', which='both', direction='out', top=True, bottom=False,
                     labeltop=(row == 0), labelbottom=False, labelsize=8, pad=1)
    ax_s.tick_params(axis='y', direction='out', left=False, right=True, labelleft=False,
                     labelright=right_lab, labelsize=6.5, labelcolor='#2b2b9e', pad=1)
    ax_s.tick_params(which='major', length=4, width=1)
    ax_s.tick_params(which='minor', length=2.2, width=0.8)
    for sp in ax_s.spines.values():
        sp.set_linewidth(1.3)
    if right_lab:
        ax_s.yaxis.set_label_position('right')
        ax_s.set_ylabel('std', fontsize=7, labelpad=1)

fig.savefig('out.png', dpi=100)
